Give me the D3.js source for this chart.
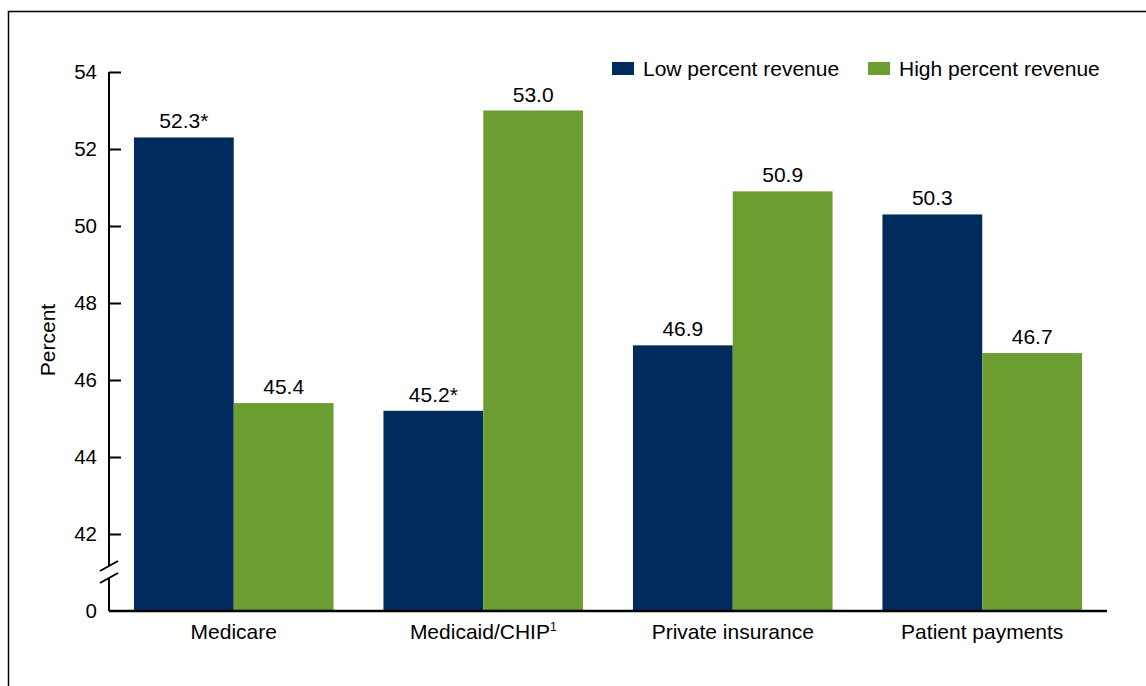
<!DOCTYPE html>
<html>
<head>
<meta charset="utf-8">
<script src="https://cdn.jsdelivr.net/npm/d3@7"></script>
<style>
  html, body { margin: 0; padding: 0; background: #fff; }
  svg { display: block; }
  text { font-family: "Liberation Sans", Arial, Helvetica, sans-serif; fill: #000; }
</style>
</head>
<body>
<svg id="chart" width="1146" height="686"></svg>
<script>
const categories = ["Medicare", "Medicaid/CHIP", "Private insurance", "Patient payments"];
const categorySup = ["", "1", "", ""];
const seriesNames = ["Low percent revenue", "High percent revenue"];
const lowValues = [52.3, 45.2, 46.9, 50.3];
const highValues = [45.4, 53.0, 50.9, 46.7];
const lowLabels = ["52.3*", "45.2*", "46.9", "50.3"];
const highLabels = ["45.4", "53.0", "50.9", "46.7"];
const tickValues = [0, 42, 44, 46, 48, 50, 52, 54];
const colors = ["#002b5c", "#6c9d31"];

const svg = d3.select("#chart");

// frame
svg.append("rect").attr("x", 8.5).attr("y", 11.5).attr("width", 1160).attr("height", 700)
  .attr("fill", "none").attr("stroke", "#000").attr("stroke-width", 1.5);

const left = 109, right = 1107, baseY = 611;
const y = d3.scaleLinear().domain([0, 42, 54]).range([baseY, 534, 72]);
const x0 = d3.scaleBand().domain(categories).range([left, right]).paddingInner(0.2).paddingOuter(0.1);
const x1 = d3.scaleBand().domain(seriesNames).range([0, x0.bandwidth()]);

const data = categories.map((c, i) => ({
  cat: c,
  vals: [
    { s: seriesNames[0], v: lowValues[i], label: lowLabels[i] },
    { s: seriesNames[1], v: highValues[i], label: highLabels[i] }
  ]
}));

const g = svg.append("g");
const groups = g.selectAll("g.grp").data(data).enter().append("g")
  .attr("transform", d => `translate(${x0(d.cat)},0)`);

groups.selectAll("rect").data(d => d.vals).enter().append("rect")
  .attr("x", d => x1(d.s))
  .attr("y", d => y(d.v))
  .attr("width", x1.bandwidth())
  .attr("height", d => y(0) - y(d.v))
  .attr("fill", (d, i) => colors[i]);

groups.selectAll("text.val").data(d => d.vals).enter().append("text")
  .attr("class", "val")
  .attr("x", d => x1(d.s) + x1.bandwidth() / 2)
  .attr("y", d => y(d.v) - 9)
  .attr("text-anchor", "middle")
  .attr("font-size", 21)
  .text(d => d.label);

// y axis
const yAxis = d3.axisLeft(y).tickValues(tickValues).tickSize(-12).tickPadding(12).tickFormat(d3.format("d"));
const ya = svg.append("g").attr("transform", `translate(${left},0)`).call(yAxis);
ya.select(".domain").remove();
ya.selectAll(".tick line").attr("stroke", "#000").attr("stroke-width", 2);
ya.selectAll(".tick text").attr("font-size", 20.5).attr("font-family", "Liberation Sans, Arial, sans-serif").attr("fill", "#000");
ya.selectAll(".tick").filter(d => d === 0).select("line").remove();

// axis line with break
const breakTop = 566, breakBot = 578;
svg.append("line").attr("x1", left).attr("x2", left).attr("y1", y(54)).attr("y2", breakTop)
  .attr("stroke", "#000").attr("stroke-width", 2);
svg.append("line").attr("x1", left).attr("x2", left).attr("y1", breakBot).attr("y2", baseY)
  .attr("stroke", "#000").attr("stroke-width", 2);
[breakTop, breakBot].forEach(cy => {
  svg.append("line").attr("x1", left - 9).attr("x2", left + 9).attr("y1", cy + 5).attr("y2", cy - 5)
    .attr("stroke", "#000").attr("stroke-width", 2);
});

// x axis line
svg.append("line").attr("x1", left).attr("x2", right).attr("y1", baseY).attr("y2", baseY)
  .attr("stroke", "#000").attr("stroke-width", 2.5);

// x labels
const xl = svg.selectAll("text.xl").data(categories).enter().append("text")
  .attr("class", "xl")
  .attr("x", d => x0(d) + x0.bandwidth() / 2)
  .attr("y", 639)
  .attr("text-anchor", "middle")
  .attr("font-size", 21);
xl.append("tspan").text(d => d);
xl.append("tspan").attr("font-size", 12).attr("dy", -8).text((d, i) => categorySup[i]);

// y label
svg.append("text")
  .attr("transform", `translate(55,340) rotate(-90)`)
  .attr("text-anchor", "middle")
  .attr("font-size", 21)
  .text("Percent");

// legend
const legX = [612, 868];
const leg = svg.selectAll("g.leg").data(seriesNames).enter().append("g")
  .attr("transform", (d, i) => `translate(${legX[i]},62)`);
leg.append("rect").attr("width", 22).attr("height", 13).attr("fill", (d, i) => colors[i]);
leg.append("text").attr("x", 31).attr("y", 13.5).attr("font-size", 21).text(d => d);
</script>
</body>
</html>
